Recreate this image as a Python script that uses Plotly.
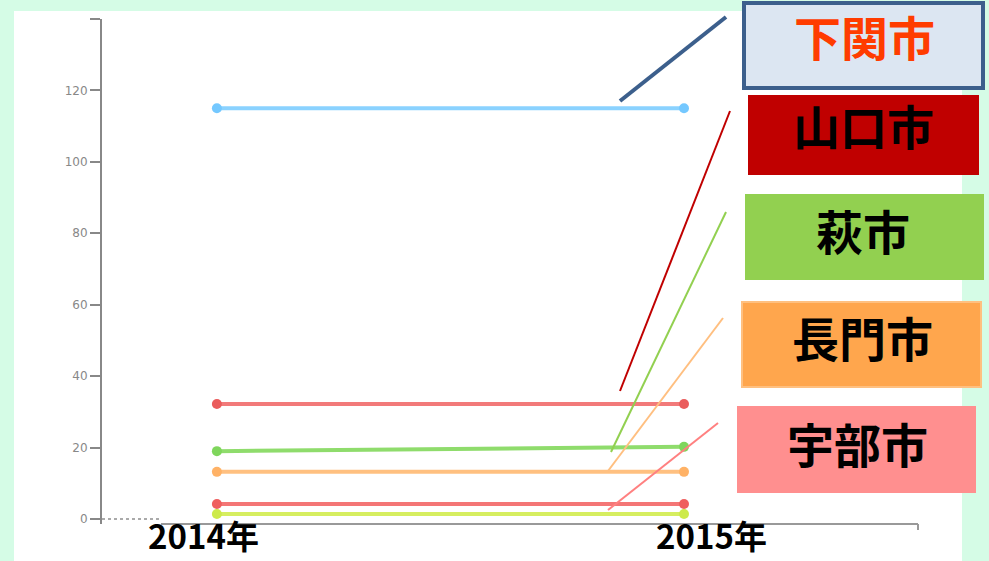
import plotly.graph_objects as go

# ---- data ----
years = [2014, 2015]
year_labels = ["2014年", "2015年"]
series_names = ["下関市", "山口市", "萩市", "長門市", "宇部市", "その他"]
series_values = [
    [115, 115],
    [32.2, 32.2],
    [19.0, 20.2],
    [13.2, 13.2],
    [4.2, 4.2],
    [1.4, 1.4],
]
line_colors = ["#8ad2ff", "#f27a7a", "#8fdc6c", "#ffc080", "#f47676", "#d6ee60"]
marker_colors = ["#74c8ff", "#ea5c5c", "#7fd65c", "#ffb266", "#ef5f5f", "#cdea4a"]
ytick_vals = [0, 20, 40, 60, 80, 100, 120, 140]
ytick_text = ["0", "20", "40", "60", "80", "100", "120", ""]

label_texts = ["下関市", "山口市", "萩市", "長門市", "宇部市"]
label_fill = ["#dce6f2", "#c00000", "#92d050", "#ffa64d", "#ff8f8f"]
label_font = ["#ff3c00", "#000000", "#000000", "#000000", "#000000"]
leader_colors = ["#3c5f8c", "#c00000", "#92d050", "#ffbf80", "#ff8080"]

W, H = 989, 561
L, R, T, B = 102, 918, 19, 524


def px(x):
    return (x - L) / (R - L)


def py(y):
    return (B - y) / (B - T)


fig = go.Figure()
for name, vals, lc, mc in zip(series_names, series_values, line_colors, marker_colors):
    fig.add_trace(go.Scatter(
        x=years, y=vals, name=name, mode="lines+markers",
        line=dict(color=lc, width=4),
        marker=dict(color=mc, size=10),
        showlegend=False,
    ))

shapes = []
# white panel
shapes.append(dict(type="rect", xref="paper", yref="paper",
                   x0=px(14), x1=px(962), y0=py(561), y1=py(11),
                   fillcolor="white", line=dict(width=0), layer="below"))
# x axis line and end tick
shapes.append(dict(type="line", xref="paper", yref="paper",
                   x0=px(161), x1=px(918), y0=py(524), y1=py(524),
                   line=dict(color="#999999", width=2)))
shapes.append(dict(type="line", xref="paper", yref="paper",
                   x0=px(918), x1=px(918), y0=py(524), y1=py(530),
                   line=dict(color="#999999", width=2)))
shapes.append(dict(type="line", xref="paper", yref="paper",
                   x0=px(102), x1=px(160), y0=py(519), y1=py(519),
                   line=dict(color="#aaaaaa", width=2, dash="dot")))

# leader lines (pixel positions)
leaders = [
    ((620, 101), (726, 17), 4),
    ((620, 391), (730, 111), 2),
    ((611, 452), (726, 212), 2),
    ((608, 471), (723, 318), 2),
    ((608, 510), (718, 423), 2),
]
for (p0, p1, w), c in zip(leaders, leader_colors):
    shapes.append(dict(type="line", xref="paper", yref="paper",
                       x0=px(p0[0]), y0=py(p0[1]), x1=px(p1[0]), y1=py(p1[1]),
                       line=dict(color=c, width=w)))

boxes = [
    (744, 3, 983, 88),
    (748, 95, 979, 175),
    (745, 194, 984, 280),
    (742, 302, 981, 387),
    (737, 406, 976, 493),
]
box_lines = [dict(color="#3c5f8c", width=4), dict(width=0), dict(width=0),
             dict(color="#ffc080", width=2), dict(width=0)]
text_centers = [(864, 35), (863, 125), (863, 229), (862, 336), (857, 442)]
annotations = []
for (x0, y0, x1, y1), f, bl, t, fc, (tx, ty) in zip(boxes, label_fill, box_lines, label_texts, label_font, text_centers):
    shapes.append(dict(type="rect", xref="paper", yref="paper",
                       x0=px(x0), x1=px(x1), y0=py(y1), y1=py(y0),
                       fillcolor=f, line=bl))
    annotations.append(dict(xref="paper", yref="paper", x=px(tx), y=py(ty),
                            text="<b>%s</b>" % t, showarrow=False,
                            font=dict(family="Noto Sans CJK JP", size=47, color=fc),
                            xanchor="center", yanchor="middle"))

for lbl, cx in zip(year_labels, [203, 711]):
    annotations.append(dict(xref="paper", yref="paper", x=px(cx), y=py(560),
                            text="<b>%s</b>" % lbl, showarrow=False, borderpad=0,
                            font=dict(family="Noto Sans CJK JP", size=33, color="#000000"),
                            xanchor="center", yanchor="bottom"))

fig.update_layout(
    width=W, height=H,
    margin=dict(l=L, r=W - R, t=T, b=H - B, pad=0),
    paper_bgcolor="#d5fce6",
    plot_bgcolor="rgba(0,0,0,0)",
    shapes=shapes,
    annotations=annotations,
    xaxis=dict(range=[2013.754, 2015.501], tickvals=years, showticklabels=False,
               showgrid=False, zeroline=False, showline=False, ticks=""),
    yaxis=dict(range=[-1.4, 140], tickvals=ytick_vals, ticktext=ytick_text,
               showgrid=False, zeroline=False, showline=True,
               linecolor="#888888", linewidth=2,
               ticks="outside", ticklen=10, tickwidth=1.5, tickcolor="#888888",
               tickfont=dict(family="DejaVu Sans", size=12, color="#888888")),
)

fig.write_html("out.html", config={"displayModeBar": False},
               post_script="document.body.style.margin='0px';document.body.style.overflow='hidden';")
